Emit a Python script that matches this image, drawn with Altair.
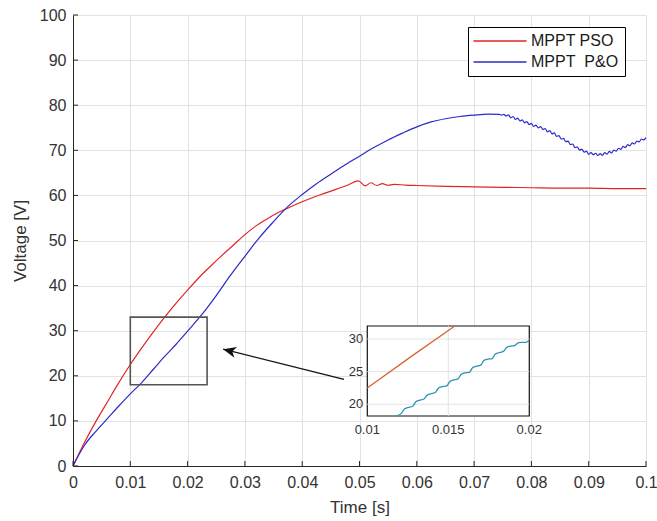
import altair as alt
import pandas as pd

# ---------------- data ----------------
PSO = "MPPT PSO"
PO = "MPPT\u00a0 P&O"

pso_t = [0.000, 0.002, 0.004, 0.006, 0.008, 0.010, 0.012, 0.014, 0.016, 0.018,
         0.020, 0.022, 0.024, 0.026, 0.028, 0.030, 0.032, 0.034, 0.036, 0.038,
         0.040, 0.042, 0.044, 0.046, 0.048, 0.0498, 0.0510, 0.0520, 0.0530,
         0.0540, 0.0550, 0.0560, 0.0580, 0.0600, 0.0650, 0.0700, 0.0750,
         0.0800, 0.0850, 0.0900, 0.0950, 0.1000]
pso_v = [0.0, 5.2, 9.9, 14.2, 18.5, 22.5, 26.2, 29.7, 33.0, 36.1,
         39.0, 41.8, 44.3, 46.7, 49.0, 51.3, 53.3, 54.9, 56.3, 57.5,
         58.6, 59.6, 60.5, 61.4, 62.3, 63.2, 62.1, 62.8, 62.2,
         62.6, 62.25, 62.45, 62.3, 62.2, 62.0, 61.9, 61.8,
         61.7, 61.6, 61.6, 61.5, 61.5]

po_t = [0.000, 0.002, 0.004, 0.006, 0.008, 0.010, 0.012, 0.014, 0.016, 0.018,
        0.020, 0.0225, 0.025, 0.0275, 0.030, 0.0325, 0.035, 0.0373, 0.040,
        0.0425, 0.045, 0.0475, 0.050, 0.0525, 0.055, 0.0575, 0.060, 0.0625,
        0.065, 0.0675, 0.070, 0.0725,
        0.0744, 0.0748, 0.0752, 0.0756, 0.0760, 0.0764, 0.0768, 0.0772, 0.0776,
        0.0780, 0.0784, 0.0788, 0.0792, 0.0796, 0.0800, 0.0804, 0.0808, 0.0812,
        0.0816, 0.0820, 0.0824, 0.0828, 0.0832, 0.0836, 0.0840, 0.0844, 0.0848,
        0.0852, 0.0856, 0.0860, 0.0864, 0.0868, 0.0872, 0.0876, 0.0880, 0.0884,
        0.0888, 0.0892, 0.0896, 0.0900, 0.0904, 0.0908, 0.0912, 0.0916, 0.0920,
        0.0924, 0.0928, 0.0932, 0.0936, 0.0940, 0.0944, 0.0948, 0.0952, 0.0956,
        0.0960, 0.0964, 0.0968, 0.0972, 0.0976, 0.0980, 0.0984, 0.0988, 0.0992,
        0.0996, 0.1000]
po_v = [0.0, 4.6, 7.7, 10.5, 13.3, 16.0, 18.5, 21.4, 24.3, 27.0,
        29.9, 33.6, 37.8, 42.3, 46.5, 50.6, 54.2, 57.3, 60.2,
        62.6, 64.7, 66.8, 68.7, 70.6, 72.3, 73.8, 75.2, 76.3,
        77.0, 77.5, 77.8, 78.0,
        77.95, 77.8, 77.95, 77.6, 77.85, 77.2, 77.5, 76.85, 77.15,
        76.5, 76.75, 76.1, 76.35, 75.7, 75.95, 75.3, 75.6, 74.95,
        75.25, 74.6, 74.8, 74.1, 74.35, 73.65, 73.85, 73.1, 73.25,
        72.5, 72.65, 71.9, 72.05, 71.25, 71.4, 70.6, 70.75, 70.05,
        70.25, 69.6, 69.8, 69.1, 69.5, 69.0, 69.35, 68.85, 69.25,
        68.9, 69.5, 69.15, 69.75, 69.4, 70.05, 69.8, 70.45, 70.2,
        70.85, 70.6, 71.25, 71.0, 71.65, 71.4, 72.05, 71.85, 72.5,
        72.3, 72.8]

# inset (zoom of 0.01 .. 0.02 s)
inset_pso_t = [0.0100, 0.0127, 0.0154]
inset_pso_v = [22.5, 27.3, 32.0]
inset_po_t = [0.0118, 0.0121, 0.0123, 0.0125, 0.0128, 0.0130, 0.0132, 0.0135,
              0.0137, 0.0139, 0.0142, 0.0144, 0.0146, 0.0149, 0.0151, 0.0153,
              0.0156, 0.0158, 0.0160, 0.0163, 0.0165, 0.0167, 0.0170, 0.0172,
              0.0174, 0.0177, 0.0179, 0.0181, 0.0184, 0.0186, 0.0188, 0.0191,
              0.0193, 0.0195, 0.0198, 0.0200]
inset_po_v = [18.2, 18.6, 19.3, 19.5, 19.7, 20.4, 20.6, 20.8,
              21.4, 21.6, 21.8, 22.5, 22.7, 22.8, 23.5, 23.7,
              23.9, 24.6, 24.8, 24.9, 25.6, 25.8, 26.0, 26.7,
              26.9, 27.0, 27.7, 27.9, 28.1, 28.7, 28.9, 29.0,
              29.4, 29.5, 29.5, 29.8]

x_ticks = [0, 0.01, 0.02, 0.03, 0.04, 0.05, 0.06, 0.07, 0.08, 0.09, 0.1]
y_ticks = [0, 10, 20, 30, 40, 50, 60, 70, 80, 90, 100]
inset_x_ticks = [0.01, 0.015, 0.02]
inset_x_labels = ["0.01", "0.015", "0.02"]
inset_y_ticks = [20, 25, 30]
inset_y_labels = ["20", "25", "30"]
inset_t_range = [0.01, 0.02]
inset_v_range = [18.2, 32.0]

zoom_box_t = [0.01, 0.0234]
zoom_box_v = [18.0, 33.0]
arrow_tail = [0.0473, 19.2]
arrow_tip = [0.0262, 25.9]

# ---------------- styling / placement ----------------
W, H = 573, 451
FONT = "Liberation Sans"
TXT = "#333333"
AX = "#262626"
GRID = "#e2e2e2"
RED = "#e02424"
BLUE = "#2a2ac8"
IN_RED = "#d8662f"
IN_BLUE = "#2b93b3"

# where the inset sits, expressed in the main chart's data units
INSET_T0, INSET_T1 = 0.05136, 0.07963
INSET_V0, INSET_V1 = 11.09, 31.04
KX = (INSET_T1 - INSET_T0) / (inset_t_range[1] - inset_t_range[0])
KY = (INSET_V1 - INSET_V0) / (inset_v_range[1] - inset_v_range[0])


def to_main_t(field):
    return f"{INSET_T0} + (datum.{field} - {inset_t_range[0]}) * {KX}"


def to_main_v(field):
    return f"{INSET_V0} + (datum.{field} - {inset_v_range[0]}) * {KY}"


xs = alt.Scale(domain=[0, 0.1], nice=False, zero=False)
ys = alt.Scale(domain=[0, 100], nice=False, zero=False)

lines_df = pd.DataFrame({
    "t": pso_t + po_t,
    "v": pso_v + po_v,
    "series": [PSO] * len(pso_t) + [PO] * len(po_t),
})

lines = alt.Chart(lines_df).mark_line(strokeWidth=1.2, interpolate="monotone").encode(
    x=alt.X("t:Q", scale=xs, title="Time [s]",
            axis=alt.Axis(values=x_ticks, format="~g", ticks=False, tickSize=0,
                          labelPadding=8, labelFont=FONT, labelFontSize=16,
                          labelColor=TXT, domainColor=AX, domainWidth=1,
                          gridColor=GRID, gridWidth=1, titleFont=FONT,
                          titleFontSize=17, titleFontWeight="normal",
                          titleColor=TXT, titlePadding=9, labelFlush=False)),
    y=alt.Y("v:Q", scale=ys, title="Voltage [V]",
            axis=alt.Axis(values=y_ticks, ticks=False, tickSize=0,
                          labelPadding=7, labelFont=FONT, labelFontSize=16,
                          labelColor=TXT, domainColor=AX, domainWidth=1,
                          gridColor=GRID, gridWidth=1, titleFont=FONT,
                          titleFontSize=17, titleFontWeight="normal",
                          titleColor=TXT, titlePadding=10)),
    color=alt.Color("series:N",
                    scale=alt.Scale(domain=[PSO, PO], range=[RED, BLUE]),
                    legend=alt.Legend(title=None, orient="none", legendX=395,
                                      legendY=12, strokeColor="black",
                                      fillColor="white", padding=6,
                                      symbolType="M-4,0H4", symbolSize=176,
                                      symbolStrokeWidth=1.3, symbolOffset=18,
                                      labelOffset=23, labelFont=FONT,
                                      labelFontSize=16, labelColor="#1a1a1a",
                                      rowPadding=5, labelLimit=300)),
)

xt_df = pd.DataFrame({"t": x_ticks})
x_tick_marks = alt.Chart(xt_df).mark_rule(color=AX, strokeWidth=1).encode(
    x=alt.X("t:Q"), y=alt.value(H), y2=alt.value(H - 5))
yt_df = pd.DataFrame({"v": y_ticks})
y_tick_marks = alt.Chart(yt_df).mark_rule(color=AX, strokeWidth=1).encode(
    y=alt.Y("v:Q"), x=alt.value(0), x2=alt.value(5))

box_df = pd.DataFrame({"t": [zoom_box_t[0]], "t1": [zoom_box_t[1]],
                       "v": [zoom_box_v[0]], "v1": [zoom_box_v[1]]})
zoom_box = alt.Chart(box_df).mark_rect(fillOpacity=0, stroke="#555555",
                                       strokeWidth=1.6).encode(
    x=alt.X("t:Q"), x2="t1:Q", y=alt.Y("v:Q"), y2="v1:Q")

arrow_df = pd.DataFrame({"t": [arrow_tail[0]], "v": [arrow_tail[1]],
                         "t1": [arrow_tip[0]], "v1": [arrow_tip[1]]})
arrow_line = alt.Chart(arrow_df).mark_rule(color="#111111", strokeWidth=1.3).encode(
    x=alt.X("t:Q"), x2="t1:Q", y=alt.Y("v:Q"), y2="v1:Q")
arrow_head = alt.Chart(arrow_df).mark_point(
    shape="M0,0L1,-0.42L0.72,0L1,0.42Z", filled=True, color="#111111",
    opacity=1, size=676, angle=14).encode(
    x=alt.X("t1:Q", title="Time [s]"), y=alt.Y("v1:Q", title="Voltage [V]"))

# ---------------- inset (mapped into the main chart's coordinates) ----------------
inset_box_df = pd.DataFrame({"a": [inset_t_range[0]], "b": [inset_t_range[1]],
                             "c": [inset_v_range[0]], "d": [inset_v_range[1]]})
inset_bg = alt.Chart(inset_box_df).transform_calculate(
    t=to_main_t("a"), t1=to_main_t("b"), v=to_main_v("c"), v1=to_main_v("d")
).mark_rect(fill="white", stroke="#111111", strokeWidth=1.2).encode(
    x=alt.X("t:Q"), x2="t1:Q", y=alt.Y("v:Q"), y2="v1:Q")

igx_df = pd.DataFrame({"a": [0.015], "c": [inset_v_range[0]], "d": [inset_v_range[1]]})
inset_gx = alt.Chart(igx_df).transform_calculate(
    t=to_main_t("a"), v=to_main_v("c"), v1=to_main_v("d")
).mark_rule(color=GRID, strokeWidth=1).encode(
    x=alt.X("t:Q"), y=alt.Y("v:Q"), y2="v1:Q")

igy_df = pd.DataFrame({"c": inset_y_ticks,
                       "a": [inset_t_range[0]] * 3, "b": [inset_t_range[1]] * 3})
inset_gy = alt.Chart(igy_df).transform_calculate(
    v=to_main_v("c"), t=to_main_t("a"), t1=to_main_t("b")
).mark_rule(color=GRID, strokeWidth=1).encode(
    y=alt.Y("v:Q"), x=alt.X("t:Q"), x2="t1:Q")

ipso_df = pd.DataFrame({"a": inset_pso_t, "c": inset_pso_v})
inset_pso = alt.Chart(ipso_df).transform_calculate(
    t=to_main_t("a"), v=to_main_v("c")
).mark_line(color=IN_RED, strokeWidth=1.3).encode(x=alt.X("t:Q"), y=alt.Y("v:Q"))

ipo_df = pd.DataFrame({"a": inset_po_t, "c": inset_po_v})
inset_po = alt.Chart(ipo_df).transform_calculate(
    t=to_main_t("a"), v=to_main_v("c")
).mark_line(color=IN_BLUE, strokeWidth=1.3, interpolate="monotone").encode(
    x=alt.X("t:Q"), y=alt.Y("v:Q"))

ixl_df = pd.DataFrame({"a": inset_x_ticks, "lab": inset_x_labels,
                       "c": [inset_v_range[0]] * 3})
inset_xl = alt.Chart(ixl_df).transform_calculate(
    t=to_main_t("a"), v=to_main_v("c")
).mark_text(font=FONT, fontSize=13, color=TXT, baseline="middle",
            align="center", dy=14).encode(
    x=alt.X("t:Q"), y=alt.Y("v:Q"), text="lab:N")

iyl_df = pd.DataFrame({"c": inset_y_ticks, "lab": inset_y_labels,
                       "a": [inset_t_range[0]] * 3})
inset_yl = alt.Chart(iyl_df).transform_calculate(
    t=to_main_t("a"), v=to_main_v("c")
).mark_text(font=FONT, fontSize=13, color=TXT, baseline="middle",
            align="right", dx=-4).encode(
    x=alt.X("t:Q"), y=alt.Y("v:Q"), text="lab:N")

chart = alt.layer(
    lines, x_tick_marks, y_tick_marks, zoom_box, arrow_line, arrow_head,
    inset_bg, inset_gx, inset_gy, inset_pso, inset_po, inset_xl, inset_yl,
).properties(
    width=W, height=H,
    padding={"left": 73, "top": 15, "right": 11, "bottom": 55},
    autosize=alt.AutoSizeParams(type="none"),
    background="white",
).configure_view(stroke=None)

chart.save("out.html", embed_options={"renderer": "svg", "actions": False})
